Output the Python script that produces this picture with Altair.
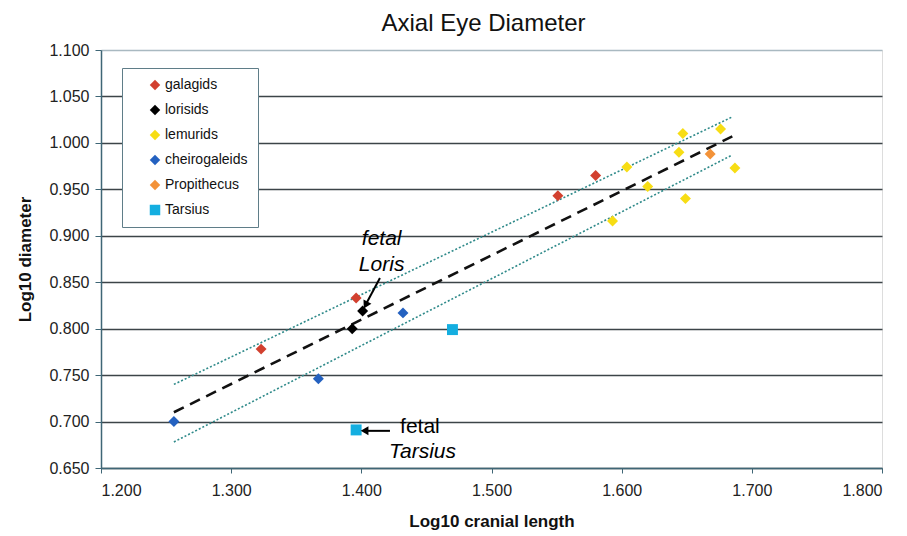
import altair as alt
import pandas as pd

# ---- data ----
species = ["galagids", "lorisids", "lemurids", "cheirogaleids", "Propithecus", "Tarsius"]
colors = ["#d2402f", "#000000", "#f7dd14", "#2461c0", "#f39238", "#14aee0"]
shapes = ["diamond", "diamond", "diamond", "diamond", "diamond", "square"]

galagids_x = [1.323, 1.396, 1.551, 1.580]
galagids_y = [0.778, 0.833, 0.943, 0.965]
lorisids_x = [1.393, 1.401]
lorisids_y = [0.800, 0.819]
lemurids_x = [1.593, 1.604, 1.620, 1.644, 1.647, 1.649, 1.676, 1.687]
lemurids_y = [0.916, 0.974, 0.953, 0.990, 1.010, 0.940, 1.015, 0.973]
cheiro_x = [1.256, 1.367, 1.432]
cheiro_y = [0.700, 0.746, 0.817]
propithecus_x = [1.668]
propithecus_y = [0.988]
tarsius_x = [1.470, 1.396]
tarsius_y = [0.799, 0.691]

fit_x = [1.256, 1.685]
fit_y = [0.710, 1.007]
upper_y = [0.740, 1.028]
lower_y = [0.678, 0.987]

x_ticks = [1.2, 1.3, 1.4, 1.5, 1.6, 1.7, 1.8]
y_ticks = [0.65, 0.70, 0.75, 0.80, 0.85, 0.90, 0.95, 1.00, 1.05, 1.10]

ann_italic_text = ["fetal", "Loris", "Tarsius"]
ann_italic_x = [1.4156, 1.4156, 1.4470]
ann_italic_y = [0.890, 0.862, 0.661]
ann_plain_text = ["fetal"]
ann_plain_x = [1.4450]
ann_plain_y = [0.6875]

arrow_x = [1.4143, 1.422]
arrow_y = [0.8545, 0.690]
arrow_x2 = [1.4035, 1.402]
arrow_y2 = [0.8262, 0.690]
head_x = [1.4033, 1.4025]
head_y = [0.8255, 0.690]
head_angle = [208, 270]

# ---- tables ----
pts = []
for name, xs, ys in [
    ("galagids", galagids_x, galagids_y),
    ("lorisids", lorisids_x, lorisids_y),
    ("lemurids", lemurids_x, lemurids_y),
    ("cheirogaleids", cheiro_x, cheiro_y),
    ("Propithecus", propithecus_x, propithecus_y),
    ("Tarsius", tarsius_x, tarsius_y),
]:
    for a, b in zip(xs, ys):
        pts.append({"x": a, "y": b, "species": name})
pts = pd.DataFrame(pts)

fit = pd.DataFrame({"x": fit_x, "y": fit_y})
bands = pd.DataFrame({
    "x": fit_x + fit_x,
    "y": upper_y + lower_y,
    "band": ["upper"] * 2 + ["lower"] * 2,
})
ital = pd.DataFrame({"x": ann_italic_x, "y": ann_italic_y, "t": ann_italic_text})
plain = pd.DataFrame({"x": ann_plain_x, "y": ann_plain_y, "t": ann_plain_text})
arrows = pd.DataFrame({"x": arrow_x, "y": arrow_y, "x2": arrow_x2, "y2": arrow_y2})
heads = pd.DataFrame({"x": head_x, "y": head_y, "a": head_angle})

FONT = "Liberation Sans"
AX = "#3f6676"

xscale = alt.Scale(domain=[1.2, 1.8], nice=False, zero=False)
yscale = alt.Scale(domain=[0.65, 1.1], nice=False, zero=False)

xaxis = alt.Axis(values=x_ticks, format=".3f", grid=False, title="Log10 cranial length",
                 labelFont=FONT, labelFontSize=16, labelColor="#222", labelPadding=9,
                 titleFont=FONT, titleFontSize=17, titleFontWeight="bold", titleColor="#111",
                 titlePadding=15, domainColor=AX, tickColor=AX, tickSize=5, domainWidth=1.5)
yaxis = alt.Axis(values=y_ticks, format=".3f", grid=True,
                 gridColor={"condition": {"test": "datum.value >= 1.099", "value": "#a9b9c1"},
                            "value": "#3c4448"},
                 gridWidth=1.3, title="Log10 diameter",
                 labelFont=FONT, labelFontSize=16, labelColor="#222", labelPadding=6,
                 titleFont=FONT, titleFontSize=17, titleFontWeight="bold", titleColor="#111",
                 titlePadding=14, domainColor=AX, tickColor=AX, tickSize=6, domainWidth=1.5)

X = alt.X("x:Q", scale=xscale, axis=xaxis)
Y = alt.Y("y:Q", scale=yscale, axis=yaxis)
Xn = alt.X("x:Q", scale=xscale)
Yn = alt.Y("y:Q", scale=yscale)

legend = alt.Legend(
    title=None,
    orient="none", legendX=21, legendY=18, padding=10,
    strokeColor="#5f7d88", fillColor="white",
    symbolSize=110, symbolStrokeWidth=0, symbolOffset=16,
    labelFont=FONT, labelFontSize=14, labelColor="#111", labelOffset=3,
    rowPadding=11,
)

fit_line = alt.Chart(fit).mark_line(color="#111", strokeWidth=2.6, strokeDash=[11, 7]).encode(x=X, y=Y)
band_lines = alt.Chart(bands).mark_line(color="#2f8a8a", strokeWidth=1.6, strokeDash=[2, 2]).encode(
    x=Xn, y=Yn, detail="band:N")

points = alt.Chart(pts).mark_point(filled=True, size=120, opacity=1).encode(
    x=Xn, y=Yn,
    color=alt.Color("species:N", scale=alt.Scale(domain=species, range=colors), legend=legend),
    shape=alt.Shape("species:N", scale=alt.Scale(domain=species, range=shapes), legend=legend),
)

arrow_lines = alt.Chart(arrows).mark_rule(color="#000", strokeWidth=2).encode(
    x=Xn, y=Yn, x2="x2:Q", y2="y2:Q")
arrow_heads = alt.Chart(heads).mark_point(shape="triangle-up", filled=True, size=80,
                                          color="#000", opacity=1).encode(
    x=Xn, y=Yn, angle=alt.Angle("a:Q", scale=None))

t_ital = alt.Chart(ital).mark_text(font=FONT, fontSize=21, fontStyle="italic",
                                   baseline="alphabetic", align="center", color="#000").encode(
    x=Xn, y=Yn, text="t:N")
t_plain = alt.Chart(plain).mark_text(font=FONT, fontSize=21, baseline="alphabetic",
                                     align="center", color="#000").encode(
    x=Xn, y=Yn, text="t:N")

chart = alt.layer(fit_line, band_lines, points, arrow_lines, arrow_heads, t_ital, t_plain).properties(
    width=781, height=418,
    title=alt.TitleParams("Axial Eye Diameter", font=FONT, fontSize=24, fontWeight="normal",
                          color="#111", anchor="middle", dx=-8, offset=6),
    autosize=alt.AutoSizeParams(type="none"),
    padding={"left": 93, "top": 42, "right": 17, "bottom": 68},
).configure_view(stroke="#a9b9c1", strokeWidth=1.5).configure(background="white")

chart.save("out.html", embed_options={"renderer": "svg", "actions": False})
